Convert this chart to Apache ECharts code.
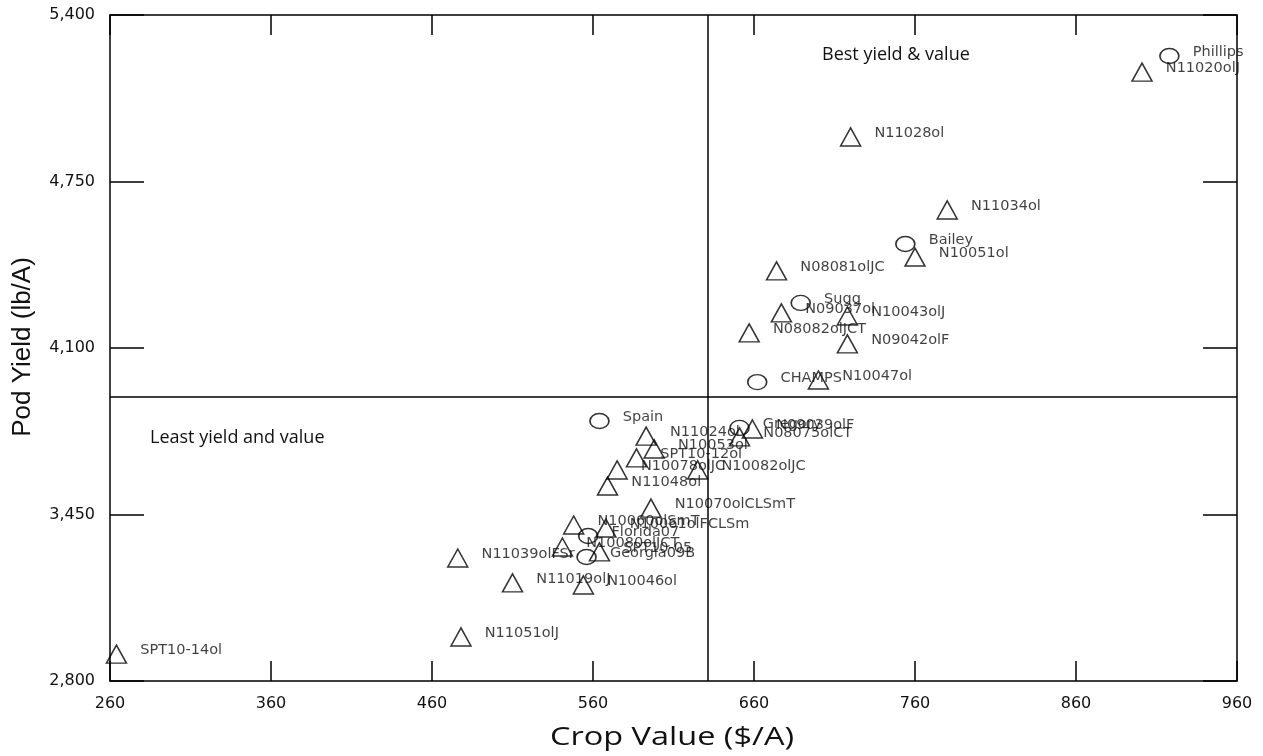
<!DOCTYPE html>
<html>
<head>
<meta charset="utf-8">
<script src="https://cdn.jsdelivr.net/npm/echarts@6/dist/echarts.min.js"></script>
<style>
html,body{margin:0;padding:0;background:#fff;}
#chart{width:1263px;height:756px;}
</style>
</head>
<body>
<div id="chart"></div>
<script>
// ---- Data ----
const triNames = ['SPT10-14ol','N11051olJ','N11039olFSr','N11019olJ','N10046ol','N10080olJCT','SPT10-05','N10060olSmT','N10061olFCLSm','N10070olCLSmT','N11048ol','N10078olJC','SPT10-12ol','N11024ol','N10053ol','N10082olJC','N09039olF','N08075olCT','N10047ol','N09042olF','N08082olJCT','N09037ol','N10043olJ','N08081olJC','N10051ol','N11034ol','N11028ol','N11020olJ'];
const triX = [264,478,476,510,554,541,564,548,568,596,569,575,587,593,598,625,659,651,700,718,657,677,718,674,760,780,720,901];
const triY = [2905,2972,3280,3183,3175,3323,3304,3409,3397,3475,3561,3624,3671,3756,3706,3624,3784,3753,3975,4116,4159,4237,4225,4401,4455,4639,4924,5177];

const cirNames = ['Spain','Gregory','Florida07','Georgia09B','CHAMPS','Sugg','Bailey','Phillips'];
const cirX = [564,651,557,556,662,689,754,918];
const cirY = [3815,3788,3366,3284,3967,4276,4506,5240];

const refX = 631;   // mean crop value
const refY = 3909;  // mean pod yield

const xMin = 260, xMax = 960, xStep = 100;
const yMin = 2800, yMax = 5400, yStep = 650;

const xTitle = 'Crop Value ($/A)';
const yTitle = 'Pod Yield (lb/A)';
const bestText = 'Best yield & value';
const leastText = 'Least yield and value';

// ---- Build ----
const toData = (names, xs, ys) => names.map((n, i) => ({ name: n, value: [xs[i], ys[i]] }));
const black = '#000';
const lw = 1.5;
const labelCfg = {
  show: true, position: 'right', distance: 13, offset: [0, -4],
  formatter: '{b}', fontFamily: 'DejaVu Sans', fontSize: 14.5, color: '#111'
};
const fmt = v => v.toLocaleString('en-US');

const chart = echarts.init(document.getElementById('chart'));
chart.setOption({
  animation: false,
  backgroundColor: '#fff',
  grid: { left: 110, right: 26, top: 15, bottom: 75 },
  xAxis: [
    { type: 'value', position: 'bottom', min: xMin, max: xMax, interval: xStep,
      axisLine: { show: true, onZero: false, lineStyle: { color: black, width: lw } },
      axisTick: { show: true, inside: true, length: 20, lineStyle: { color: black, width: lw } },
      axisLabel: { fontFamily: 'DejaVu Sans', fontSize: 16, color: '#111', margin: 15 },
      splitLine: { show: false } },
    { type: 'value', position: 'top', min: xMin, max: xMax, interval: xStep,
      axisLine: { show: true, onZero: false, lineStyle: { color: black, width: lw } },
      axisTick: { show: true, inside: true, length: 20, lineStyle: { color: black, width: lw } },
      axisLabel: { show: false }, splitLine: { show: false } }
  ],
  yAxis: [
    { type: 'value', position: 'left', min: yMin, max: yMax, interval: yStep,
      axisLine: { show: true, onZero: false, lineStyle: { color: black, width: lw } },
      axisTick: { show: true, inside: true, length: 34, lineStyle: { color: black, width: lw } },
      axisLabel: { fontFamily: 'DejaVu Sans', fontSize: 16, color: '#111', margin: 15, formatter: fmt },
      splitLine: { show: false } },
    { type: 'value', position: 'right', min: yMin, max: yMax, interval: yStep,
      axisLine: { show: true, onZero: false, lineStyle: { color: black, width: lw } },
      axisTick: { show: true, inside: true, length: 34, lineStyle: { color: black, width: lw } },
      axisLabel: { show: false }, splitLine: { show: false } }
  ],
  series: [
    { type: 'scatter', name: 'tri', symbol: 'triangle', symbolSize: [20, 18],
      itemStyle: { color: 'rgba(0,0,0,0)', borderColor: black, borderWidth: lw },
      label: labelCfg,
      data: toData(triNames, triX, triY),
      markLine: {
        silent: true, symbol: 'none', label: { show: false },
        lineStyle: { color: black, width: lw, type: 'solid' },
        data: [{ xAxis: refX }, { yAxis: refY }]
      },
      z: 3 },
    { type: 'scatter', name: 'cir', symbol: 'circle', symbolSize: [19, 15],
      itemStyle: { color: 'rgba(0,0,0,0)', borderColor: black, borderWidth: lw },
      label: labelCfg,
      data: toData(cirNames, cirX, cirY), z: 3 }
  ],
  graphic: [
    { type: 'text', x: 822, y: 55, silent: true,
      style: { text: bestText, font: '18px "Open Sans"', fill: '#111', align: 'left', verticalAlign: 'middle' } },
    { type: 'text', x: 150, y: 438, silent: true,
      style: { text: leastText, font: '18px "Open Sans"', fill: '#111', align: 'left', verticalAlign: 'middle' } },
    { type: 'text', x: 672, y: 738, scaleX: 1.3, silent: true,
      style: { text: xTitle, font: '25px "Open Sans"', fill: '#111', align: 'center', verticalAlign: 'middle' } },
    { type: 'text', x: 23, y: 347, rotation: Math.PI / 2, silent: true,
      style: { text: yTitle, font: '26px "Liberation Sans"', fill: '#111', align: 'center', verticalAlign: 'middle' } }
  ]
});
</script>
</body>
</html>
